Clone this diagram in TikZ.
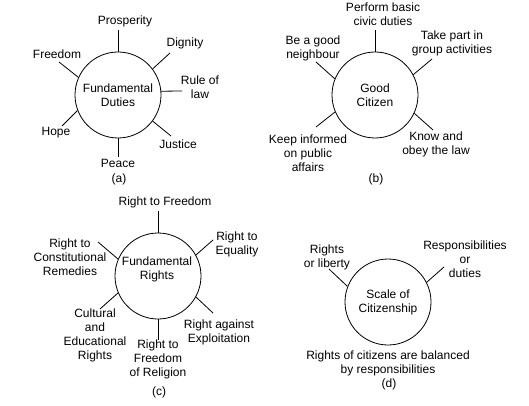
\documentclass[tikz,border=0pt]{standalone}
\usepackage{fontspec}
\setmainfont{Liberation Sans}
\begin{document}
\begin{tikzpicture}[x=1pt,y=-1pt,
  every node/.style={font=\fontsize{12}{14}\selectfont},
  hub/.style={circle,draw,line width=0.8pt,minimum size=86pt,inner sep=0pt,align=center},
  lbl/.style={align=center,inner sep=0pt},
  spoke/.style={line width=0.8pt}]
\useasboundingbox (0,0) rectangle (529,406);

% (a)
\node[hub] (A) at (118,95) {Fundamental\\Duties};
\coordinate (a1) at (118,30);
\coordinate (a2) at (170,53);
\coordinate (a3) at (182,91);
\coordinate (a4) at (171,136);
\coordinate (a5) at (118,157);
\coordinate (a6) at (62,126);
\coordinate (a7) at (59,62);
\draw[spoke] (A.90) -- (a1);
\draw[spoke] (A.37) -- (a2);
\draw[spoke] (A.5) -- (a3);
\draw[spoke] (A.-37) -- (a4);
\draw[spoke] (A.-90) -- (a5);
\draw[spoke] (A.-159) -- (a6);
\draw[spoke] (A.156) -- (a7);
\node[lbl] (la1) at (125,21) {Prosperity};
\node[lbl] (la2) at (185,43) {Dignity};
\node[lbl] (la3) at (200,87) {Rule of\\law};
\node[lbl] (la4) at (178,144) {Justice};
\node[lbl] (la5) at (118,163) {Peace};
\node[lbl] (la6) at (56,133) {Hope};
\node[lbl] (la7) at (57,54) {Freedom};
\node[lbl] (capa) at (119,179) {(a)};

% (b)
\node[hub] (B) at (375,95) {Good\\Citizen};
\coordinate (b1) at (375,30);
\coordinate (b2) at (432,59);
\coordinate (b3) at (433,130);
\coordinate (b4) at (316,127);
\coordinate (b5) at (316,62);
\draw[spoke] (B.90) -- (b1);
\draw[spoke] (B.28) -- (b2);
\draw[spoke] (B.-25) -- (b3);
\draw[spoke] (B.-157) -- (b4);
\draw[spoke] (B.158) -- (b5);
\node[lbl] (lb1) at (383,14) {Perform basic\\civic duties};
\node[lbl] (lb2) at (452,43) {Take part in\\group activities};
\node[lbl] (lb3) at (436,144) {Know and\\obey the law};
\node[lbl] (lb4) at (308,153) {Keep informed\\on public\\affairs};
\node[lbl] (lb5) at (313,48) {Be a good\\neighbour};
\node[lbl] (capb) at (376,179) {(b)};

% (c)
\node[hub] (C) at (158,276) {};
\node[lbl] (Ct) at (157,269) {Fundamental\\Rights};
\coordinate (c1) at (158,211);
\coordinate (c2) at (213,240);
\coordinate (c3) at (213,313);
\coordinate (c4) at (158,340);
\coordinate (c5) at (100,309);
\coordinate (c6) at (98,242);
\draw[spoke] (C.90) -- (c1);
\draw[spoke] (C.29) -- (c2);
\draw[spoke] (C.-29) -- (c3);
\draw[spoke] (C.-90) -- (c4);
\draw[spoke] (C.-157) -- (c5);
\draw[spoke] (C.157) -- (c6);
\node[lbl] (lc1) at (165,202) {Right to Freedom};
\node[lbl] (lc2) at (237,244) {Right to\\Equality};
\node[lbl] (lc3) at (219,332) {Right against\\Exploitation};
\node[lbl] (lc4) at (158,359) {Right to\\Freedom\\of Religion};
\node[lbl] (lc5) at (95,335) {Cultural\\and\\Educational\\Rights};
\node[lbl] (lc6) at (70,257) {Right to\\Constitutional\\Remedies};
\node[lbl] (capc) at (159,392) {(c)};

% (d)
\node[hub] (D) at (388,302) {Scale of\\Citizenship};
\coordinate (d1) at (329,269);
\coordinate (d2) at (444,267);
\draw[spoke] (D.159) -- (d1);
\draw[spoke] (D.27) -- (d2);
\node[lbl] (ld1) at (327,257) {Rights\\or liberty};
\node[lbl] (ld2) at (465,259) {Responsibilities\\or\\duties};
\node[lbl] (ld3) at (388,363) {Rights of citizens are balanced\\by responsibilities};
\node[lbl] (capd) at (389,384) {(d)};
\end{tikzpicture}
\end{document}
